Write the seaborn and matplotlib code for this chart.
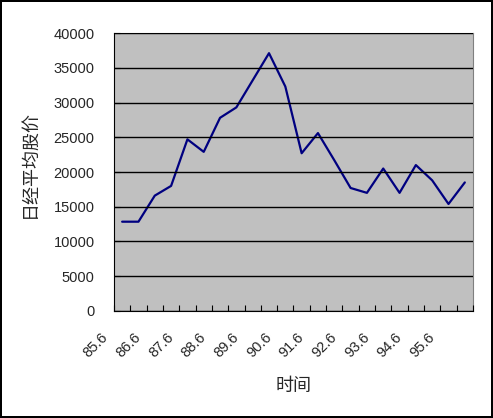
import numpy as np
import pandas as pd
import matplotlib
matplotlib.use('Agg')
import matplotlib.pyplot as plt
import matplotlib.transforms as mtransforms
import seaborn as sns

# semi-annual Nikkei average, 1985.6 - 1995.12
periods = ['85.6', '85.12', '86.6', '86.12', '87.6', '87.12', '88.6', '88.12',
           '89.6', '89.12', '90.6', '90.12', '91.6', '91.12', '92.6', '92.12',
           '93.6', '93.12', '94.6', '94.12', '95.6', '95.12']
nikkei = [12850, 12850, 16600, 18000, 24700, 22900, 27800, 29300,
          33200, 37100, 32300, 22700, 25600, 21700, 17700, 17000,
          20500, 17000, 21000, 18800, 15400, 18500]
yticks = [0, 5000, 10000, 15000, 20000, 25000, 30000, 35000, 40000]

df = pd.DataFrame({'idx': np.arange(len(periods)), 'period': periods, 'value': nikkei})

sns.set_style('white')
plt.rcParams['font.family'] = ['Liberation Sans', 'Noto Sans CJK SC', 'DejaVu Sans']

fig = plt.figure(figsize=(4.93, 4.18), dpi=100, facecolor='white',
                 edgecolor='black', linewidth=1.5)
ax = fig.add_axes([0.2312, 0.256, 0.7282, 0.665])
ax.set_facecolor('#c0c0c0')

sns.lineplot(data=df, x='idx', y='value', color='#000080', linewidth=1.6, ax=ax)

ax.set_ylim(0, 40000)
ax.set_xlim(-0.5, len(periods) - 0.5)
ax.set_yticks(yticks)
ax.set_yticklabels([str(v) for v in yticks], fontsize=10.5)
ax.yaxis.grid(True, color='black', linewidth=1)
ax.set_axisbelow(False)

# tick marks on category boundaries, every other period labelled at its left edge
bounds = np.arange(len(periods) + 1) - 0.5
xlabels = [periods[k] if (k % 2 == 0 and k < len(periods)) else '' for k in range(len(bounds))]
ax.set_xticks(bounds)
ax.set_xticklabels(xlabels, rotation=45, ha='right', va='top', fontsize=10.5)
ax.tick_params(axis='x', bottom=True, labelbottom=True, direction='in',
               length=4, color='black', pad=14)
ax.tick_params(axis='y', left=True, direction='in', length=4, color='black', pad=14)
offset = mtransforms.ScaledTranslation(-3 / 100, 0, fig.dpi_scale_trans)
for lab in ax.get_xticklabels():
    lab.set_transform(lab.get_transform() + offset)

for side in ['top', 'right']:
    ax.spines[side].set_color('#808080')
for side in ['left', 'bottom']:
    ax.spines[side].set_color('black')

ax.set_xlabel('时间', fontsize=13)
ax.set_ylabel('日经平均股价', fontsize=13)
ax.xaxis.set_label_coords(0.5, -0.24)
ax.yaxis.set_label_coords(-0.21, 0.53)

fig.savefig('out.png', dpi=100, facecolor='white', edgecolor='black')
